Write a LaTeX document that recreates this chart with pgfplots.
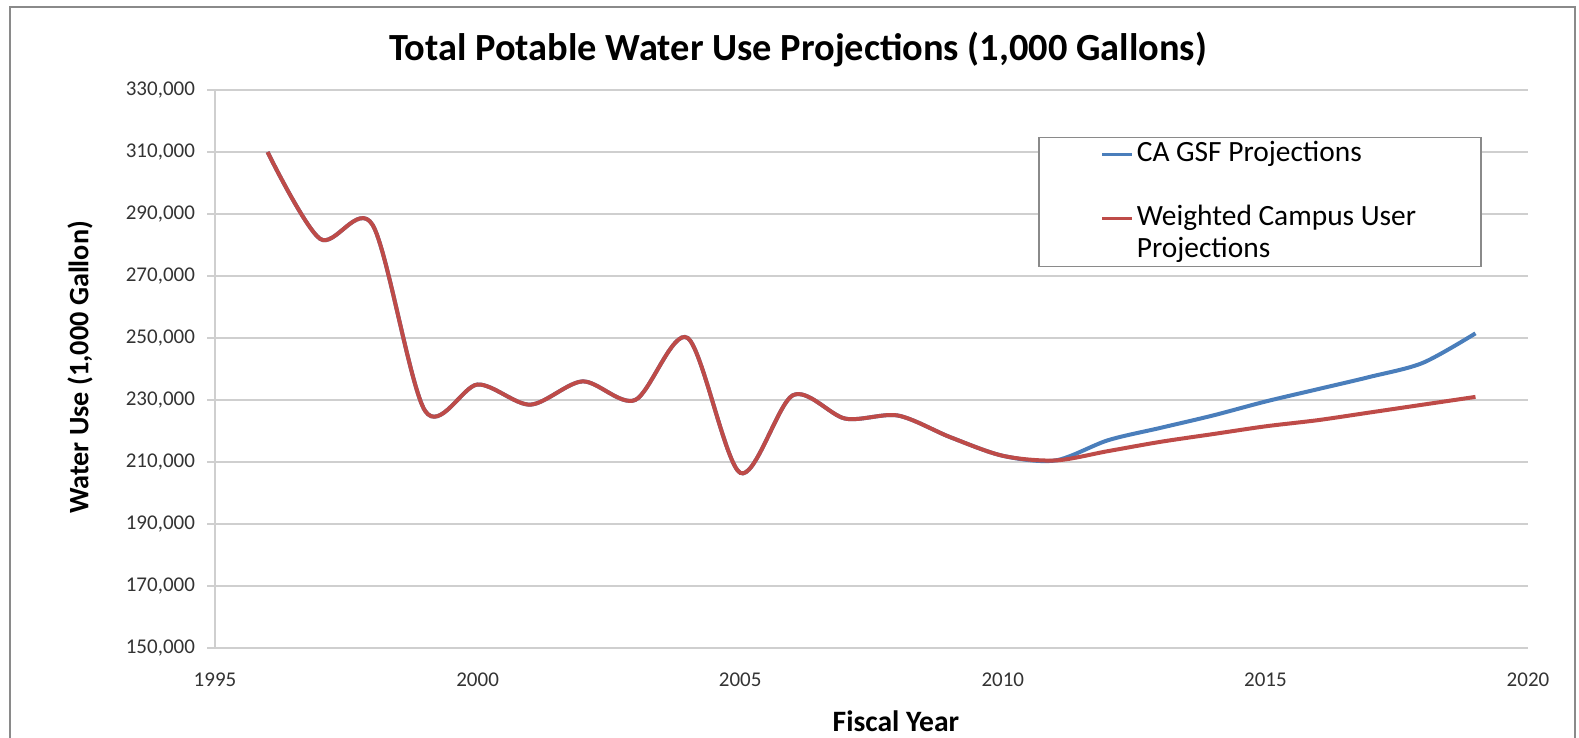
\documentclass[border=0pt]{standalone}
\usepackage{fontspec}
\setmainfont{Carlito}
\usepackage{pgfplots}
\pgfplotsset{compat=1.18}
\definecolor{gsfblue}{HTML}{4A7EBB}
\definecolor{cured}{HTML}{BE4B48}
\definecolor{gridgray}{HTML}{CFCFCF}
\definecolor{framegray}{HTML}{8A8A8A}
\definecolor{ticktext}{HTML}{333333}
\begin{document}
\begin{tikzpicture}
\useasboundingbox (0,0) rectangle (789.5pt,369pt);
\draw[framegray, line width=1pt] (5pt,-2pt) -- (5pt,365.5pt) -- (787.5pt,365.5pt) -- (787.5pt,-2pt);
\begin{axis}[
  at={(107.5pt,45pt)}, anchor=south west,
  scale only axis, width=656.5pt, height=279pt,
  xmin=1995, xmax=2020, ymin=150000, ymax=330000,
  xtick={1995,2000,...,2020},
  ytick={150000,170000,...,330000},
  axis lines*=left,
  axis line style={gridgray, line width=0.9pt},
  ymajorgrids, grid style={gridgray, line width=0.9pt},
  tick align=outside, major tick length=4pt,
  ytick style={gridgray, line width=0.9pt},
  xtick style={draw=none},
  scaled y ticks=false,
  /pgf/number format/assume math mode=true,
  yticklabel style={font=\fontsize{10.5}{12}\selectfont, text=ticktext,
    /pgf/number format/fixed, /pgf/number format/1000 sep={,}, xshift=-2.5pt},
  xticklabel style={font=\fontsize{10.5}{12}\selectfont, text=ticktext,
    /pgf/number format/1000 sep={}, yshift=-5pt},
  title={Total Potable Water Use Projections (1,000 Gallons)},
  every axis title/.style={at={(axis description cs:0.4441,1.0717)}, anchor=center,
    font=\fontsize{19.2}{22}\selectfont\bfseries},
  xlabel={Fiscal Year},
  every axis x label/.style={at={(axis description cs:0.5186,-0.1308)}, anchor=center,
    font=\fontsize{14.8}{17}\selectfont\bfseries},
  ylabel={Water Use (1,000 Gallon)},
  every axis y label/.style={at={(axis description cs:-0.1028,0.5027)}, anchor=center, rotate=90,
    font=\fontsize{14.1}{17}\selectfont\bfseries},
  legend style={at={(axis description cs:0.627,0.916)}, anchor=north west,
    draw=framegray, line width=0.8pt, fill=white,
    inner xsep=31pt, inner ysep=1pt, row sep=1.5pt,
    font=\fontsize{14.7}{16.5}\selectfont,
    nodes={inner xsep=1.5pt, inner ysep=0pt, text height=11pt, text depth=3.5pt}},
  legend cell align=left,
  legend image code/.code={\draw[#1, line width=1.4pt] (0pt,0pt) -- (15pt,0pt);},
]
\addplot[gsfblue, line width=2pt, smooth, tension=0.5] coordinates {
(1996,310000) (1997,282000) (1998,286500) (1999,226500) (2000,235000)
(2001,228500) (2002,236000) (2003,230000) (2004,250000) (2005,206500)
(2006,231500) (2007,224000) (2008,225000) (2009,218000) (2010,212000)
(2011,210500) (2012,217000) (2013,221000) (2014,225000) (2015,229500)
(2016,233500) (2017,237500) (2018,242000) (2019,251500)
};
\addlegendentry{CA GSF Projections}
\addlegendimage{empty legend}
\addlegendentry{}
\addplot[cured, line width=2pt, smooth, tension=0.5] coordinates {
(1996,310000) (1997,282000) (1998,286500) (1999,226500) (2000,235000)
(2001,228500) (2002,236000) (2003,230000) (2004,250000) (2005,206500)
(2006,231500) (2007,224000) (2008,225000) (2009,218000) (2010,212000)
(2011,210500) (2012,213500) (2013,216500) (2014,219000) (2015,221500)
(2016,223500) (2017,226000) (2018,228500) (2019,231000)
};
\addlegendentry{Weighted Campus User}
\addlegendimage{empty legend}
\addlegendentry{Projections}
\end{axis}
\end{tikzpicture}
\end{document}
